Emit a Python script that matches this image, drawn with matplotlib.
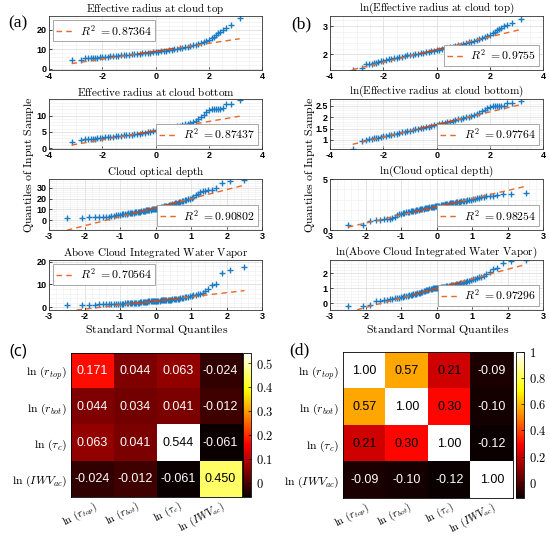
import numpy as np
import matplotlib.pyplot as plt
from matplotlib.ticker import AutoMinorLocator
from statistics import NormalDist

plt.rcParams['mathtext.fontset'] = 'cm'
plt.rcParams['font.family'] = ['Liberation Sans', 'DejaVu Sans']

# ---------------- QQ data (sample quantiles) ----------------
# theoretical quantiles used for the two cloud-radius variables (large sample)
top_q = [-3.15, -2.81, -2.64, -2.52, -2.42, -2.34, -2.27, -2.2, -2.1,
         -2.0, -1.9, -1.8, -1.7, -1.6, -1.5, -1.4, -1.3, -1.2, -1.1,
         -1.0, -0.9, -0.8, -0.7, -0.6, -0.5, -0.4, -0.3, -0.2, -0.1,
         0.0, 0.1, 0.2, 0.3, 0.4, 0.5, 0.6, 0.7, 0.8, 0.9,
         1.0, 1.1, 1.2, 1.3, 1.4, 1.5, 1.6, 1.7, 1.8, 1.9, 2.0,
         2.1, 2.2, 2.27, 2.34, 2.42, 2.52, 2.64, 2.81, 3.15]
r_top = [4.3, 4.6, 5.2, 5.3, 5.35, 5.4, 5.5, 5.6, 5.75,
         5.9, 6.05, 6.2, 6.35, 6.5, 6.6, 6.7, 6.85, 6.95, 7.1,
         7.2, 7.3, 7.4, 7.5, 7.65, 7.8, 7.95, 8.1, 8.25, 8.4,
         8.6, 8.75, 8.9, 9.1, 9.3, 9.5, 9.75, 9.95, 10.2, 10.45,
         10.7, 11.0, 11.3, 11.6, 11.9, 12.2, 12.6, 13.0, 13.5, 14.0, 14.6,
         15.5, 16.4, 17.3, 18.2, 18.9, 20.1, 20.9, 22.2, 25.8]
r_bot = [1.85, 2.6, 2.7, 2.8, 2.85, 2.9, 2.95, 3.0, 3.1,
         3.2, 3.3, 3.35, 3.45, 3.55, 3.6, 3.7, 3.8, 3.9, 4.0,
         4.1, 4.2, 4.3, 4.4, 4.5, 4.65, 4.8, 4.9, 5.05, 5.2,
         5.35, 5.5, 5.65, 5.8, 5.95, 6.1, 6.3, 6.5, 6.7, 6.9,
         7.2, 7.4, 7.6, 7.9, 8.2, 8.5, 8.9, 9.5, 10.3, 11.2, 11.8,
         12.0, 12.1, 12.1, 12.2, 12.2, 12.3, 13.8, 13.8, 14.9]

# optical depth and water vapour: 80 sorted samples each
tau_c = [1.6, 1.75, 2.4, 2.7, 2.8, 2.9, 3.0, 3.1, 3.3, 3.5,
         4.6, 4.9, 5.1, 5.3, 5.5, 5.7, 5.9, 6.1, 6.3, 6.5,
         6.7, 6.9, 7.1, 7.3, 7.5, 7.7, 7.9, 8.1, 8.3, 8.5,
         8.7, 8.9, 9.1, 9.3, 9.5, 9.7, 9.9, 10.1, 10.3, 10.5,
         10.7, 10.9, 11.1, 11.4, 11.7, 12.0, 12.3, 12.6, 12.9, 13.2,
         13.5, 13.8, 14.1, 14.4, 14.7, 15.0, 15.4, 15.8, 16.2, 16.6,
         17.0, 17.4, 17.8, 18.3, 18.8, 19.3, 19.9, 20.5, 21.5, 23.0,
         24.5, 26.0, 26.8, 27.3, 27.8, 28.3, 30.0, 34.5, 36.0, 37.0]
iwv_ac = [0.8, 0.82, 0.9, 1.12, 1.18, 1.22, 1.26, 1.3, 1.33, 1.37,
          1.41, 1.45, 1.49, 1.53, 1.57, 1.61, 1.65, 1.69, 1.73, 1.77,
          1.81, 1.85, 1.89, 1.94, 1.99, 2.04, 2.1, 2.16, 2.22, 2.28,
          2.35, 2.42, 2.48, 2.54, 2.59, 2.63, 2.67, 2.7, 2.73, 2.76,
          2.79, 2.82, 2.85, 2.89, 2.93, 2.97, 3.01, 3.05, 3.1, 3.15,
          3.2, 3.25, 3.3, 3.36, 3.42, 3.48, 3.55, 3.62, 3.7, 3.78,
          3.87, 3.96, 4.1, 4.25, 4.4, 4.55, 4.75, 4.95, 5.2, 5.5,
          5.75, 5.95, 6.3, 6.9, 8.0, 9.6, 10.3, 15.0, 16.5, 17.5]
n_small = len(tau_c)
small_q = [NormalDist().inv_cdf((k + 0.5) / n_small) for k in range(n_small)]

titles = ['Effective radius at cloud top', 'Effective radius at cloud bottom',
          'Cloud optical depth', 'Above Cloud Integrated Water Vapor']
r2_a = ['0.87364', '0.87437', '0.90802', '0.70564']
r2_b = ['0.9755', '0.97764', '0.98254', '0.97296']
# reference lines (intercept, slope)
fit_a = [(8.95, 2.03), (5.4, 1.42), (11.5, 8.4), (2.75, 1.81)]
fit_b = [(2.17, 0.225), (1.68, 0.277), (2.3, 0.80), (0.99, 0.64)]

# ---------------- covariance / correlation ----------------
var_labels = [r'$\ln\,(r_{top})$', r'$\ln\,(r_{bot})$', r'$\ln\,(\tau_c)$', r'$\ln\,(IWV_{ac})$']
cov_vals = np.array([[0.171, 0.044, 0.063, -0.024],
                     [0.044, 0.034, 0.041, -0.012],
                     [0.063, 0.041, 0.544, -0.061],
                     [-0.024, -0.012, -0.061, 0.450]])
corr_vals = np.array([[1.00, 0.57, 0.21, -0.09],
                      [0.57, 1.00, 0.30, -0.10],
                      [0.21, 0.30, 1.00, -0.12],
                      [-0.09, -0.10, -0.12, 1.00]])

BLUE = '#1b7cc6'
ORANGE = '#e8672a'


def cm(s):
    return r'$\mathrm{' + s.replace(' ', r'\ ') + '}$'


fig = plt.figure(figsize=(5.5, 5.38), dpi=100)


def qq_panel(rect, q, vals, title, r2, line, loc, xlim, xticks, ylim, yticks):
    ax = fig.add_axes(rect)
    q = np.asarray(q)
    ax.plot(q, vals, '+', color=BLUE, ms=4.8, mew=1.0, zorder=2)
    b0, b1 = line
    qx = np.array([q.min(), q.max()])
    h, = ax.plot(qx, b0 + b1 * qx, '--', color=ORANGE, lw=1.0, dashes=(4, 3), zorder=3)
    qm = np.array([-0.6745, 0.6745])
    ax.plot(qm, b0 + b1 * qm, '-', color='#c4471c', lw=0.9, zorder=3)
    ax.set_xlim(xlim)
    ax.set_ylim(ylim)
    ax.set_xticks(xticks)
    ax.set_yticks(yticks)
    ax.set_xticklabels([f'{t:g}' for t in xticks], fontweight='bold')
    ax.set_yticklabels([f'{t:g}' for t in yticks], fontweight='bold')
    ax.xaxis.set_minor_locator(AutoMinorLocator())
    ax.yaxis.set_minor_locator(AutoMinorLocator())
    ax.grid(True, which='major', color='#d9d9d9', lw=0.5)
    ax.grid(True, which='minor', color='#eeeeee', lw=0.4)
    ax.set_axisbelow(True)
    ax.tick_params(which='major', direction='in', length=2.5, width=0.5, labelsize=6.5, pad=1.5)
    ax.tick_params(which='minor', length=0)
    for s in ax.spines.values():
        s.set_linewidth(0.6)
        s.set_color('#333333')
    ax.set_title(cm(title), fontsize=8, pad=2.5)
    leg = ax.legend([h], [r'$R^2\ {=}' + r2 + '$'], loc=loc, fontsize=8.5,
                    fancybox=False, framealpha=1, edgecolor='#9a9a9a',
                    handlelength=1.6, handletextpad=0.4, borderpad=0.25,
                    borderaxespad=0.35)
    leg.get_frame().set_linewidth(0.6)
    return ax


rows_y = [(0.870, 0.100), (0.723, 0.093), (0.572, 0.095), (0.424, 0.093)]
col_a, col_b, col_w = 0.089, 0.600, 0.388

big_x = [-4, -2, 0, 2, 4]
small_x = [-3, -2, -1, 0, 1, 2, 3]
a_data = [(top_q, r_top), (top_q, r_bot), (small_q, tau_c), (small_q, iwv_ac)]
a_loc = ['upper left', 'lower right', 'lower right', 'upper left']
a_ylim = [(-0.7, 27), (-0.3, 15.2), (-9.5, 38), (-1.2, 20.8)]
a_yticks = [[0, 10, 20], [0, 5, 10], [0, 10, 20, 30], [0, 10, 20]]
b_ylim = [(1.45, 3.35), (0.6, 2.8), (0, 5), (-0.45, 2.9)]
b_yticks = [[2, 3], [1, 1.5, 2, 2.5], [0, 5], [0, 1, 2]]

for i in range(4):
    q, v = a_data[i]
    xt = big_x if i < 2 else small_x
    xl = (-4, 4) if i < 2 else (-3, 3)
    yb, hh = rows_y[i]
    qq_panel([col_a, yb, col_w, hh], q, v, titles[i], r2_a[i], fit_a[i],
             a_loc[i], xl, xt, a_ylim[i], a_yticks[i])
    qq_panel([col_b, yb, col_w, hh], q, np.log(v), 'ln(' + titles[i] + ')',
             r2_b[i], fit_b[i], 'lower right', xl, xt, b_ylim[i], b_yticks[i])

for x0 in (0.052, 0.563):
    fig.text(x0, 0.693, cm('Quantiles of Input Sample'), rotation=90,
             ha='center', va='center', fontsize=8.5)
for x0 in (0.284, 0.795):
    fig.text(x0, 0.388, cm('Standard Normal Quantiles'), ha='center', va='center', fontsize=8.5)


def heat_panel(rect, crect, mat, fmt, dark_above, cticks):
    ax = fig.add_axes(rect)
    im = ax.imshow(mat, cmap='hot', aspect='auto')
    for i in range(mat.shape[0]):
        for j in range(mat.shape[1]):
            val = mat[i, j]
            ax.text(j, i, fmt % val, ha='center', va='center', fontsize=9,
                    color='black' if val > dark_above else 'white')
    ax.set_xticks(range(len(var_labels)))
    ax.set_yticks(range(len(var_labels)))
    ax.set_xticklabels(var_labels, rotation=28, ha='right', rotation_mode='anchor', fontsize=7.8)
    ax.set_yticklabels(var_labels, fontsize=8.5)
    ax.tick_params(axis='x', length=0, pad=1)
    ax.tick_params(axis='y', length=0, pad=3)
    for s in ax.spines.values():
        s.set_linewidth(0.6)
    cax = fig.add_axes(crect)
    cb = fig.colorbar(im, cax=cax, ticks=cticks)
    cb.set_ticklabels([f'${t:g}$' for t in cticks])
    cb.ax.tick_params(labelsize=9, length=2, width=0.5, direction='in')
    cb.outline.set_linewidth(0.6)
    return ax


heat_panel([0.129, 0.076, 0.311, 0.268], [0.442, 0.076, 0.0145, 0.268],
           cov_vals, '%.3f', 0.3, [0, 0.1, 0.2, 0.3, 0.4, 0.5])
heat_panel([0.624, 0.074, 0.309, 0.271], [0.938, 0.074, 0.0145, 0.271],
           corr_vals, '%.2f', 0.15, [0, 0.2, 0.4, 0.6, 0.8, 1])

fig.text(0.033, 0.957, '(a)', family='Liberation Serif', fontsize=12.5, ha='center', va='center')
fig.text(0.547, 0.954, '(b)', family='Liberation Serif', fontsize=12.5, ha='center', va='center')
fig.text(0.033, 0.346, '(c)', family='Open Sans', fontsize=12, ha='center', va='center')
fig.text(0.544, 0.349, '(d)', family='Liberation Serif', fontsize=12.5, ha='center', va='center')

fig.savefig('out.png', dpi=100)
